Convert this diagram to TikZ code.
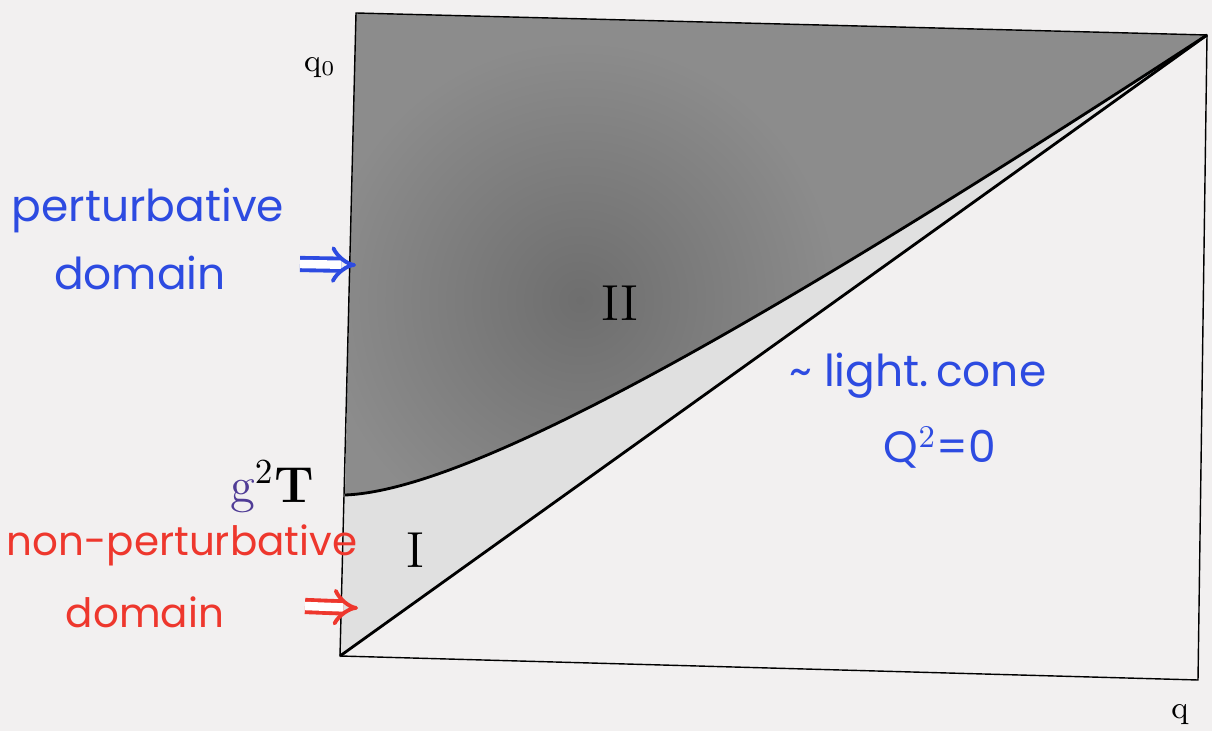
\documentclass[tikz,border=0pt]{standalone}
\usepackage{fontspec}
\newfontfamily\handfont{Poppins}
\usepackage{xcolor}
\usetikzlibrary{arrows.meta}
\definecolor{penblue}{RGB}{45,75,225}
\definecolor{penred}{RGB}{238,55,45}
\definecolor{penviolet}{RGB}{80,60,150}
\definecolor{paper}{RGB}{242,240,240}
\definecolor{darkzone}{RGB}{140,140,140}
\definecolor{darkcore}{RGB}{110,110,110}
\definecolor{lightzone}{RGB}{224,224,224}

\begin{document}
\begin{tikzpicture}[x=0.01cm,y=-0.01cm,>=Stealth,
    bluenote/.style={text=penblue,font=\handfont\fontsize{12.5}{12.5}\selectfont},
    rednote/.style={text=penred,font=\handfont\fontsize{11.5}{11.5}\selectfont},
    pen/.style={double,double distance=2.4pt,line width=1.1pt,-{Implies}}]
    \fill[paper] (0,0) rectangle (1212,731);
    \useasboundingbox (0,0) rectangle (1212,731);
    % frame of the (q,q0) plane
    \coordinate (tl) at (356,13);
    \coordinate (tr) at (1207,35);
    \coordinate (br) at (1198,680);
    \coordinate (bl) at (340,656);
    \coordinate (cut) at (345,495);
    \fill[lightzone] (cut) .. controls (480,490) and (800,300) .. (tr) -- (bl) -- cycle;
    \begin{scope}
        \clip (tl) -- (tr) .. controls (800,300) and (480,490) .. (cut) -- cycle;
        \fill[darkzone] (0,0) rectangle (1212,731);
        \shade[inner color=darkcore,outer color=darkzone] (580,300) circle (260);
    \end{scope}
    \draw[thick] (cut) .. controls (480,490) and (800,300) .. (tr);
    \draw (tl) -- (tr) -- (br) -- (bl) -- cycle;
    \draw[thick] (bl) -- (tr);
    % axis labels
    \node (q0) at (320,68) {\small q$_0$};
    \node (q) at (1180,715) {\small q};
    \node (II) at (620,303) {\Large II};
    \node (I) at (415,550) {\Large I};
    \node (gT) at (272,487) {\Large\textcolor{penviolet}{g}$^{2}$\textbf{T}};
    % notes
    \node[bluenote] (pert) at (148,210) {perturbative};
    \node[bluenote] (pertd) at (140,273) {domain};
    \node[rednote] (npert) at (182,545) {non-perturbative};
    \node[rednote] (npertd) at (145,612) {domain};
    \node[bluenote] (cone) at (918,376) {\textasciitilde{} light.\,cone};
    \node[bluenote] (qzero) at (940,448) {Q$^2$=0};
    \coordinate (ptail) at (300,264);
    \coordinate (pin) at (356,265);
    \coordinate (nptail) at (305,606);
    \coordinate (npin) at (358,608);
    \draw[pen,penblue] (ptail) -- (pin);
    \draw[pen,penred] (nptail) -- (npin);
\end{tikzpicture}
\end{document}
